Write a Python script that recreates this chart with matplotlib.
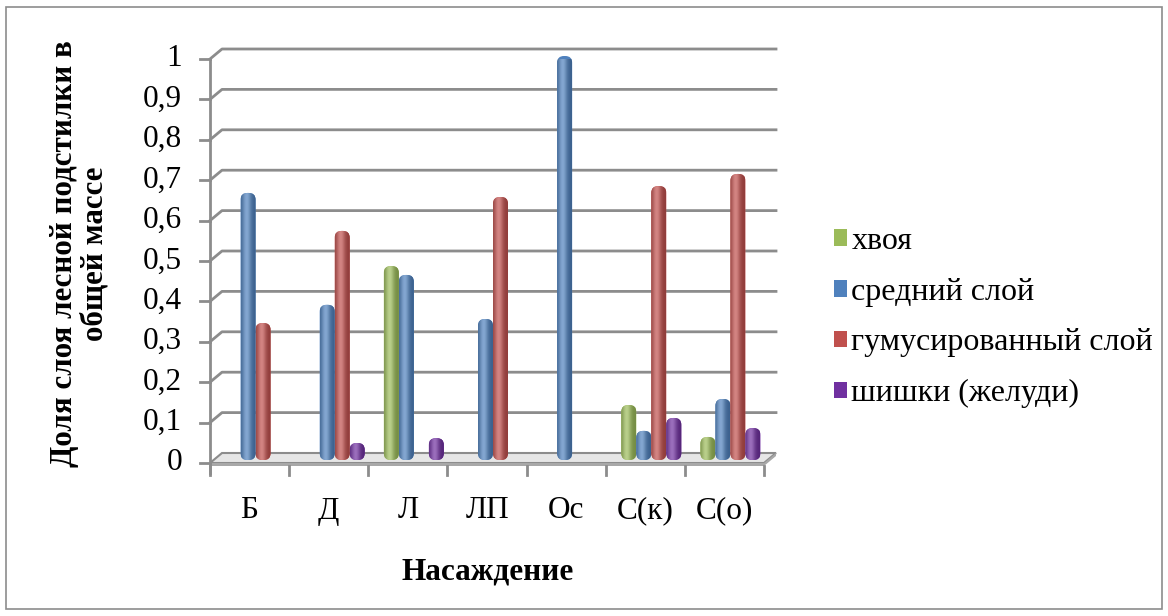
import numpy as np
import matplotlib
matplotlib.use("Agg")
import matplotlib.pyplot as plt
from matplotlib import font_manager as fm
from matplotlib.patches import Polygon, Rectangle, FancyBboxPatch, Patch
from matplotlib.colors import to_rgb

names = {f.name for f in fm.fontManager.ttflist}
serif = [f for f in ['Liberation Serif', 'Tinos', 'Times New Roman', 'DejaVu Serif'] if f in names]
plt.rcParams['font.family'] = serif[:1] + ['DejaVu Serif']

categories = ['Б', 'Д', 'Л', 'ЛП', 'Ос', 'С(к)', 'С(о)']
series = ['хвоя', 'средний слой', 'гумусированный слой', 'шишки (желуди)']
khvoya = [0, 0, 0.48, 0, 0, 0.136, 0.057]
sredniy = [0.661, 0.384, 0.458, 0.349, 1.0, 0.072, 0.151]
gumus = [0.339, 0.567, 0, 0.651, 0, 0.678, 0.708]
shishki = [0, 0.042, 0.054, 0, 0, 0.104, 0.079]
values = [khvoya, sredniy, gumus, shishki]
colors = ['#9BBB59', '#4F81BD', '#C0504D', '#7030A0']
yticks = np.round(np.arange(0, 1.01, 0.1), 1)
ytick_labels = ['0' if v == 0 else ('1' if v == 1 else str(v).replace('.', ',')) for v in yticks]

W, H = 1168, 616
fig = plt.figure(figsize=(W / 100, H / 100), dpi=100)
ax = fig.add_axes([210 / W, (H - 463) / H, (764 - 210) / W, (463 - 59) / H])
n = len(categories)
ax.set_xlim(0, n)
ax.set_ylim(0, 1)
for s in ax.spines.values():
    s.set_visible(False)
ax.set_xticks([])
ax.set_yticks([])

# pixel -> data conversion
px = 1.0 / ((764 - 210) / n)
py = 1.0 / (463 - 59)
grid_c = '#8C8C8C'
dx, dy = 12 * px, 10 * py

# floor
floor = Polygon([(0, 0), (n, 0), (n + dx, dy), (dx, dy)], closed=True,
                facecolor='#E6E6E6', edgecolor=grid_c, lw=1.5, clip_on=False, zorder=1)
ax.add_patch(floor)
ax.add_patch(Polygon([(0, 0), (n, 0), (n, -3 * py), (0, -3 * py)], closed=True,
                     facecolor='#A8A8A8', edgecolor='none', clip_on=False, zorder=1))
ax.add_patch(Polygon([(n, 0), (n + dx, dy), (n + dx, dy - 3 * py), (n, -3 * py)], closed=True,
                     facecolor='#A8A8A8', edgecolor='none', clip_on=False, zorder=1))

# back wall gridlines with diagonal stubs
for v in yticks[1:]:
    ax.plot([0, dx, n + dx], [v, v + dy, v + dy], color=grid_c, lw=2, clip_on=False, zorder=0.5)

# front value axis and ticks
ax.plot([0, 0], [-10 * py, 1], color=grid_c, lw=2, clip_on=False, zorder=2)
for v, lab in zip(yticks, ytick_labels):
    ax.plot([-10 * px, 0], [v, v], color=grid_c, lw=2, clip_on=False, zorder=2)
    ax.text(-28 * px, v, lab, ha='right', va='center', fontsize=22.5)

# category ticks and labels
for i in range(n + 1):
    ax.plot([i, i], [-3 * py, -12 * py], color=grid_c, lw=2, clip_on=False, zorder=2)
for i, c in enumerate(categories):
    ax.text(i + 0.5, -48 * py, c, ha='center', va='center', fontsize=22.5)

# cylinder-ish bars
bw = 15 * px
bdx, bdy = 6 * px, 3 * py
t = np.linspace(0, 1, 40)
prof = np.exp(-((t - 0.38) / 0.3) ** 2)
for k, (vals, col) in enumerate(zip(values, colors)):
    base = np.array(to_rgb(col))
    light = base + (1 - base) * 0.3
    dark = base * 0.75
    grad = (dark[None, :] + (light - dark)[None, :] * prof[:, None])[None, :, :]
    for i, v in enumerate(vals):
        if v <= 0:
            continue
        x0 = i + 0.5 + (k - 2) * bw + bdx
        y0 = bdy
        patch = FancyBboxPatch((x0, y0), bw, v, boxstyle='round,pad=0,rounding_size=%f' % (bw * 0.45),
                               mutation_aspect=py / px, facecolor=col, edgecolor='none',
                               clip_on=False, zorder=3)
        ax.add_patch(patch)
        im = ax.imshow(grad, extent=(x0, x0 + bw, y0, y0 + v), aspect='auto',
                       interpolation='bilinear', zorder=3.5, clip_on=True)
        im.set_clip_path(patch)

ax.set_xlim(0, n)
ax.set_ylim(0, 1)

# axis titles
fig.text(80 / W, 1 - 254 / H, 'Доля слоя лесной подстилки в\nобщей массе', rotation=90,
         ha='center', va='center', fontsize=22.3, fontweight='bold', linespacing=1.05)
fig.text(488 / W, 1 - 572 / H, 'Насаждение', ha='center', va='center', fontsize=22.5,
         fontweight='bold')

# legend
handles = [Patch(facecolor=c, edgecolor='none') for c in colors]
fig.legend(handles, series, loc='upper left', bbox_to_anchor=(834 / W, 1 - 227 / H),
           frameon=False, fontsize=23, handlelength=0.42, handleheight=0.42,
           handletextpad=0.12, labelspacing=0.68, borderaxespad=0, borderpad=0)

# outer frame
fig.patches.append(Rectangle((6 / W, 7 / H), 1156 / W, 602 / H, transform=fig.transFigure,
                             fill=False, edgecolor='#8C8C8C', lw=1.2, figure=fig))

fig.savefig('out.png', dpi=100)
